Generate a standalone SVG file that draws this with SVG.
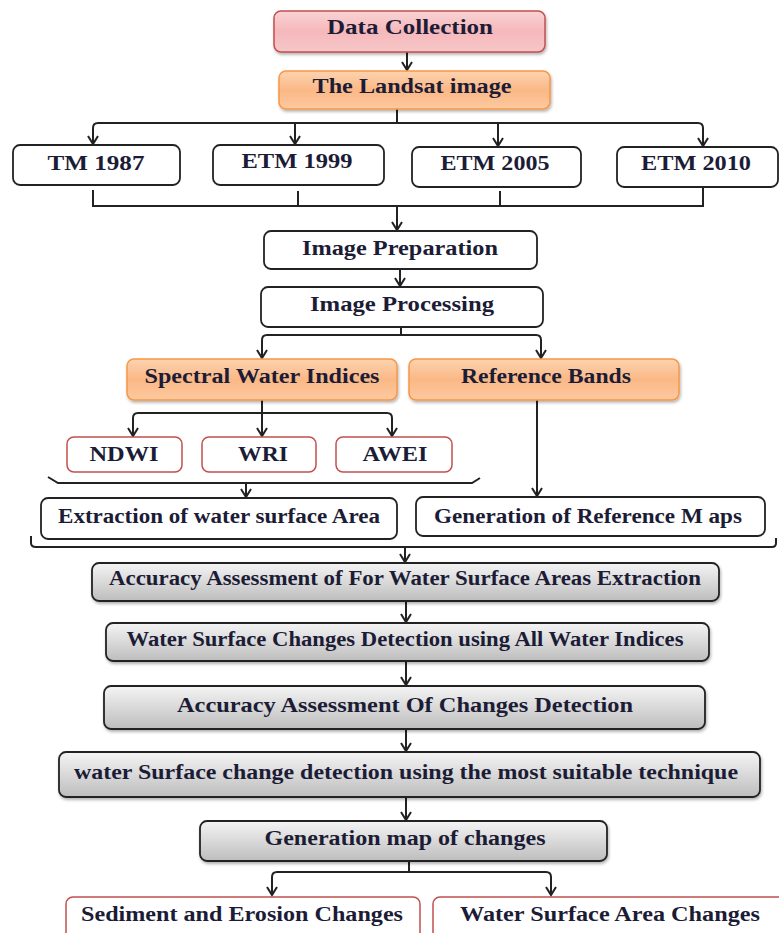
<svg xmlns="http://www.w3.org/2000/svg" width="779" height="933" viewBox="0 0 779 933">
<defs>
<linearGradient id="gPink" x1="0" y1="0" x2="0" y2="1"><stop offset="0" stop-color="#f9d3d4"/><stop offset="0.5" stop-color="#f5b8bb"/><stop offset="1" stop-color="#f7c7c9"/></linearGradient>
<linearGradient id="gOrange" x1="0" y1="0" x2="0" y2="1"><stop offset="0" stop-color="#fcd3b0"/><stop offset="0.5" stop-color="#fbb886"/><stop offset="1" stop-color="#fcc9a0"/></linearGradient>
<linearGradient id="gGray" x1="0" y1="0" x2="0" y2="1"><stop offset="0" stop-color="#f4f4f4"/><stop offset="0.5" stop-color="#d9d9d9"/><stop offset="1" stop-color="#bdbdbd"/></linearGradient>
<filter id="sh" x="-5%" y="-20%" width="110%" height="150%"><feDropShadow dx="1" dy="2" stdDeviation="1.5" flood-color="#000" flood-opacity="0.3"/></filter>
<marker id="arr" viewBox="-10 -6 12 12" refX="0" refY="0" markerWidth="12" markerHeight="12" markerUnits="userSpaceOnUse" orient="auto"><path d="M-8,-5 L0,0 L-8,5" fill="none" stroke="#222" stroke-width="2"/></marker>
<style>
.pink{fill:url(#gPink);stroke:#c0504d;stroke-width:1.5;filter:url(#sh)}
.orange{fill:url(#gOrange);stroke:#f79646;stroke-width:1.5;filter:url(#sh)}
.white{fill:#fff;stroke:#222;stroke-width:1.8}
.red{fill:#fff;stroke:#c0504d;stroke-width:1.5}
.gray{fill:url(#gGray);stroke:#222;stroke-width:1.8;filter:url(#sh)}
text{font-family:"Liberation Serif","DejaVu Serif",serif;font-weight:bold;font-size:20px;fill:#1c1c36;text-anchor:middle}
.c path{fill:none;stroke:#222;stroke-width:2}
.c .a{marker-end:url(#arr)}
</style>
</defs>

<g class="c" id="connectors">
<path class="a" d="M407,52 V70"/>
<path d="M397,109 V123"/>
<path d="M98,123 H698"/>
<path class="a" d="M98,123 Q93,123 93,128 V144"/>
<path class="a" d="M295,123 V144"/>
<path class="a" d="M498,123 V146"/>
<path class="a" d="M698,123 Q703,123 703,128 V146"/>
<path d="M93,190 V206 H703 V188"/>
<path d="M298,191 V206"/>
<path d="M500,191 V206"/>
<path class="a" d="M397,206 V230"/>
<path class="a" d="M400,269 V286"/>
<path d="M401,327 V335"/>
<path d="M267,335 H536"/>
<path class="a" d="M267,335 Q262,335 262,340 V358"/>
<path class="a" d="M536,335 Q541,335 541,340 V358"/>
<path d="M262,400 V413"/>
<path d="M138,413 H387"/>
<path class="a" d="M138,413 Q133,413 133,418 V436"/>
<path class="a" d="M262,413 V436"/>
<path class="a" d="M387,413 Q392,413 392,418 V436"/>
<path class="a" d="M537,400 V496"/>
<path d="M48,477 L58,483 H472 L480,478"/>
<path class="a" d="M246,483 V497"/>
<path d="M31,536 V543 Q31,547 36,547 H772 Q776,547 776,543 V538"/>
<path class="a" d="M405,547 V562"/>
<path class="a" d="M406,601 V622"/>
<path class="a" d="M406,661 V685"/>
<path class="a" d="M406,729 V751"/>
<path class="a" d="M406,797 V820"/>
<path d="M409,861 V872"/>
<path d="M277,872 H546"/>
<path class="a" d="M277,872 Q272,872 272,877 V895"/>
<path class="a" d="M546,872 Q551,872 551,877 V895"/>
</g>

<g id="data-collection"><rect class="pink" x="274" y="11" width="271" height="41" rx="7"/><text x="410" y="34" textLength="166" lengthAdjust="spacingAndGlyphs">Data Collection</text></g>
<g id="landsat"><rect class="orange" x="279" y="71" width="271" height="38" rx="7"/><text x="412" y="93" textLength="199" lengthAdjust="spacingAndGlyphs">The Landsat image</text></g>
<g id="tm1987"><rect class="white" x="13" y="145" width="167" height="40" rx="7"/><text x="96" y="170" textLength="97" lengthAdjust="spacingAndGlyphs">TM 1987</text></g>
<g id="etm1999"><rect class="white" x="213" y="145" width="171" height="40" rx="7"/><text x="297" y="168" textLength="111" lengthAdjust="spacingAndGlyphs">ETM 1999</text></g>
<g id="etm2005"><rect class="white" x="412" y="147" width="169" height="40" rx="7"/><text x="495" y="170" textLength="109" lengthAdjust="spacingAndGlyphs">ETM 2005</text></g>
<g id="etm2010"><rect class="white" x="617" y="147" width="161" height="40" rx="7"/><text x="696" y="170" textLength="110" lengthAdjust="spacingAndGlyphs">ETM 2010</text></g>
<g id="image-preparation"><rect class="white" x="264" y="231" width="273" height="38" rx="7"/><text x="400" y="255" textLength="196" lengthAdjust="spacingAndGlyphs">Image Preparation</text></g>
<g id="image-processing"><rect class="white" x="261" y="287" width="282" height="40" rx="7"/><text x="402" y="311" textLength="184" lengthAdjust="spacingAndGlyphs">Image Processing</text></g>
<g id="spectral"><rect class="orange" x="127" y="359" width="270" height="41" rx="7"/><text x="262" y="383" textLength="235" lengthAdjust="spacingAndGlyphs">Spectral Water Indices</text></g>
<g id="reference-bands"><rect class="orange" x="409" y="359" width="270" height="41" rx="7"/><text x="546" y="383" textLength="170" lengthAdjust="spacingAndGlyphs">Reference Bands</text></g>
<g id="ndwi"><rect class="red" x="67" y="437" width="115" height="35" rx="7"/><text x="124" y="461" textLength="69" lengthAdjust="spacingAndGlyphs">NDWI</text></g>
<g id="wri"><rect class="red" x="202" y="437" width="114" height="35" rx="7"/><text x="263" y="461" textLength="50" lengthAdjust="spacingAndGlyphs">WRI</text></g>
<g id="awei"><rect class="red" x="336" y="437" width="116" height="35" rx="7"/><text x="395" y="461" textLength="65" lengthAdjust="spacingAndGlyphs">AWEI</text></g>
<g id="extraction"><rect class="white" x="41" y="498" width="356" height="41" rx="7"/><text x="219" y="523" textLength="322" lengthAdjust="spacingAndGlyphs">Extraction of water surface Area</text></g>
<g id="generation-reference"><rect class="white" x="416" y="497" width="349" height="39" rx="7"/><text x="588" y="523" textLength="308" lengthAdjust="spacingAndGlyphs">Generation of Reference M aps</text></g>
<g id="accuracy-extraction"><rect class="gray" x="92" y="563" width="627" height="38" rx="7"/><text x="405" y="585" textLength="592" lengthAdjust="spacingAndGlyphs">Accuracy Assessment of For Water Surface Areas Extraction</text></g>
<g id="changes-all-indices"><rect class="gray" x="106" y="623" width="603" height="38" rx="7"/><text x="405" y="646" textLength="557" lengthAdjust="spacingAndGlyphs">Water Surface Changes Detection using All Water Indices</text></g>
<g id="accuracy-changes"><rect class="gray" x="104" y="686" width="601" height="43" rx="7"/><text x="405" y="712" textLength="456" lengthAdjust="spacingAndGlyphs">Accuracy Assessment Of Changes Detection</text></g>
<g id="suitable-technique"><rect class="gray" x="59" y="752" width="701" height="45" rx="7"/><text x="406" y="779" textLength="664" lengthAdjust="spacingAndGlyphs">water Surface change detection using the most suitable technique</text></g>
<g id="generation-map"><rect class="gray" x="200" y="821" width="407" height="40" rx="7"/><text x="405" y="845" textLength="281" lengthAdjust="spacingAndGlyphs">Generation map of changes</text></g>
<g id="sediment"><rect class="red" x="66" y="897" width="354" height="45" rx="7"/><text x="242" y="921" textLength="322" lengthAdjust="spacingAndGlyphs">Sediment and Erosion Changes</text></g>
<g id="water-area"><rect class="red" x="433" y="897" width="352" height="45" rx="7"/><text x="610" y="921" textLength="300" lengthAdjust="spacingAndGlyphs">Water Surface Area Changes</text></g>
</svg>
